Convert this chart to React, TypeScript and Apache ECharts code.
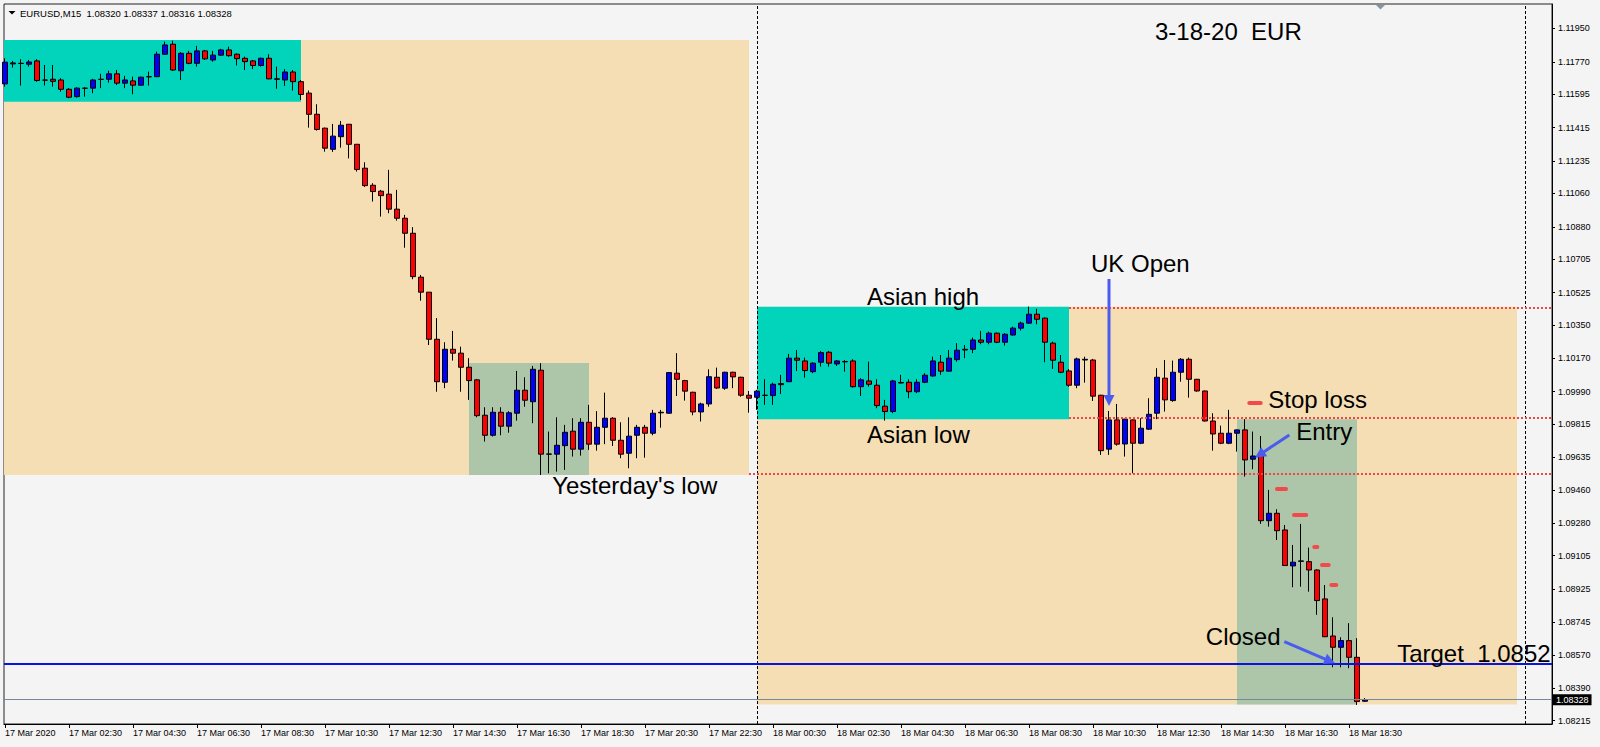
import React, { useEffect, useRef } from 'react';
import * as echarts from 'echarts';

// ---- time axis (15-minute bars, bar 0 = 17 Mar 00:30) ----
const tickBars = [0, 8, 16, 24, 32, 40, 48, 56, 64, 72, 80, 88, 96, 104, 112, 120, 128, 136, 144, 152, 160, 168];
const tickLabels = [
  '17 Mar 2020', '17 Mar 02:30', '17 Mar 04:30', '17 Mar 06:30', '17 Mar 08:30', '17 Mar 10:30',
  '17 Mar 12:30', '17 Mar 14:30', '17 Mar 16:30', '17 Mar 18:30', '17 Mar 20:30', '17 Mar 22:30',
  '18 Mar 00:30', '18 Mar 02:30', '18 Mar 04:30', '18 Mar 06:30', '18 Mar 08:30', '18 Mar 10:30',
  '18 Mar 12:30', '18 Mar 14:30', '18 Mar 16:30', '18 Mar 18:30',
];

// ---- price axis ticks ----
const priceTicks = [
  1.1195, 1.1177, 1.11595, 1.11415, 1.11235, 1.1106, 1.1088, 1.10705, 1.10525, 1.1035, 1.1017,
  1.0999, 1.09815, 1.09635, 1.0946, 1.0928, 1.09105, 1.08925, 1.08745, 1.0857, 1.0839, 1.08215,
];

// ---- OHLC, EURUSD M15 ----
const opens = [
  1.11651, 1.11759, 1.11761, 1.11757, 1.11775, 1.11672, 1.11676, 1.11672, 1.11622, 1.11582,
  1.11627, 1.11628, 1.11675, 1.11676, 1.11705, 1.11655, 1.11667, 1.11644, 1.11689, 1.1169,
  1.11811, 1.11865, 1.11722, 1.11816, 1.11762, 1.11829, 1.1178, 1.11806, 1.11834, 1.11811,
  1.11789, 1.11775, 1.1175, 1.11789, 1.11678, 1.11672, 1.11715, 1.11663, 1.11601, 1.11487,
  1.11412, 1.11298, 1.11366, 1.11433, 1.11325, 1.11196, 1.11104, 1.11072, 1.11056, 1.10975,
  1.10926, 1.10845, 1.10608, 1.10527, 1.10273, 1.10041, 1.10219, 1.10198, 1.10122, 1.10054,
  1.09863, 1.09755, 1.09879, 1.09804, 1.09874, 1.09998, 1.09936, 1.10106, 1.09653, 1.09653,
  1.09699, 1.09777, 1.0968, 1.09825, 1.09707, 1.09798, 1.09847, 1.09728, 1.09658, 1.09755,
  1.09798, 1.09766, 1.09876, 1.09874, 1.1009, 1.1005, 1.09987, 1.09881, 1.09924, 1.10068,
  1.10009, 1.10095, 1.10068, 1.09971, 1.0996, 1.0997, 1.09969, 1.10034, 1.10044, 1.10171,
  1.10156, 1.10098, 1.10149, 1.10203, 1.1014, 1.10151, 1.10156, 1.10017, 1.10048, 1.10025,
  1.09912, 1.09883, 1.10037, 1.10041, 1.0999, 1.10041, 1.10075, 1.10149, 1.10101, 1.10163,
  1.10215, 1.10219, 1.10269, 1.10257, 1.10306, 1.10257, 1.10296, 1.10333, 1.1036, 1.10408,
  1.10387, 1.10252, 1.10149, 1.10102, 1.10025, 1.10161, 1.10161, 1.09971, 1.0968, 1.09838,
  1.09708, 1.09838, 1.09712, 1.09788, 1.09874, 1.10063, 1.09942, 1.10095, 1.10165, 1.10057,
  1.09994, 1.09832, 1.09766, 1.09712, 1.09766, 1.09784, 1.09626, 1.09643, 1.09294, 1.09334,
  1.09244, 1.0905, 1.09075, 1.09073, 1.09028, 1.08872, 1.08672, 1.08611, 1.08647, 1.08557,
  1.0832,
];
const closes = [
  1.11768, 1.11764, 1.11762, 1.11769, 1.11669, 1.11671, 1.11665, 1.11622, 1.11579, 1.11628,
  1.11628, 1.11672, 1.11676, 1.11705, 1.11655, 1.11672, 1.11644, 1.11687, 1.1169, 1.11811,
  1.11861, 1.11726, 1.11816, 1.11762, 1.11829, 1.11786, 1.11806, 1.11834, 1.11803, 1.11787,
  1.11771, 1.1175, 1.11789, 1.11678, 1.11676, 1.11715, 1.11663, 1.11594, 1.11487, 1.11405,
  1.11304, 1.11369, 1.11428, 1.11325, 1.11189, 1.11102, 1.1107, 1.11048, 1.10975, 1.10926,
  1.10845, 1.10611, 1.10527, 1.10273, 1.10044, 1.10219, 1.10198, 1.10122, 1.1005, 1.09861,
  1.09755, 1.09879, 1.09804, 1.09876, 1.09998, 1.09944, 1.10111, 1.09653, 1.09654, 1.09701,
  1.09771, 1.0968, 1.09825, 1.09707, 1.09798, 1.09847, 1.09728, 1.09653, 1.0975, 1.09798,
  1.09766, 1.09874, 1.09879, 1.10093, 1.10057, 1.09993, 1.09881, 1.09924, 1.10071, 1.1001,
  1.10095, 1.1007, 1.09971, 1.09955, 1.09993, 1.09971, 1.1003, 1.10028, 1.10171, 1.1016,
  1.10104, 1.10144, 1.10201, 1.10144, 1.10156, 1.10153, 1.10017, 1.10054, 1.1003, 1.09915,
  1.09883, 1.10048, 1.1004, 1.0999, 1.10041, 1.10079, 1.10156, 1.10101, 1.10171, 1.10214,
  1.10219, 1.10269, 1.10257, 1.10306, 1.10257, 1.103, 1.10333, 1.1036, 1.10408, 1.10381,
  1.10257, 1.1016, 1.10095, 1.10025, 1.10167, 1.10165, 1.09966, 1.09672, 1.09838, 1.09707,
  1.09842, 1.09712, 1.09793, 1.09868, 1.10068, 1.09946, 1.10095, 1.10165, 1.10057, 1.09994,
  1.09832, 1.09762, 1.09712, 1.09766, 1.09784, 1.09622, 1.09643, 1.09294, 1.09334, 1.0924,
  1.09052, 1.0907, 1.09077, 1.09028, 1.08863, 1.08668, 1.08611, 1.08647, 1.08557, 1.08318,
  1.08328,
];
const lows = [
  1.11636, 1.11739, 1.11642, 1.11744, 1.11663, 1.11642, 1.11636, 1.11609, 1.11574, 1.11577,
  1.11582, 1.11601, 1.11628, 1.11658, 1.11645, 1.11628, 1.11595, 1.11642, 1.11642, 1.11687,
  1.11807, 1.11721, 1.11672, 1.11757, 1.11744, 1.1178, 1.11771, 1.11802, 1.11798, 1.1175,
  1.11726, 1.11731, 1.11744, 1.11676, 1.11625, 1.1164, 1.11615, 1.11564, 1.11415, 1.11399,
  1.11285, 1.11284, 1.11307, 1.11249, 1.11178, 1.11095, 1.11016, 1.10935, 1.10953, 1.10913,
  1.10767, 1.10597, 1.10481, 1.10242, 1.0999, 1.10009, 1.10158, 1.0999, 1.09946, 1.09852,
  1.09721, 1.09748, 1.09755, 1.09769, 1.09834, 1.09909, 1.0982, 1.09541, 1.0955, 1.09559,
  1.09568, 1.0964, 1.09645, 1.09676, 1.09672, 1.09707, 1.09697, 1.09631, 1.09577, 1.09631,
  1.09634, 1.09755, 1.09796, 1.09872, 1.09967, 1.09942, 1.09863, 1.09829, 1.09909, 1.10005,
  1.1, 1.10009, 1.09963, 1.09877, 1.09892, 1.09919, 1.09919, 1.09978, 1.10042, 1.10102,
  1.10066, 1.1009, 1.10125, 1.10125, 1.10129, 1.10098, 1.10012, 1.09967, 1.10017, 1.09901,
  1.09834, 1.09874, 1.10034, 1.09955, 1.09982, 1.10036, 1.10071, 1.10081, 1.10098, 1.10152,
  1.10171, 1.10198, 1.10246, 1.10246, 1.10252, 1.10239, 1.10293, 1.1032, 1.10356, 1.10354,
  1.10149, 1.10113, 1.1009, 1.10017, 1.10009, 1.10039, 1.0994, 1.09649, 1.09649, 1.09699,
  1.0964, 1.0955, 1.09707, 1.09784, 1.09842, 1.09883, 1.09936, 1.10044, 1.09958, 1.0999,
  1.09829, 1.09672, 1.09707, 1.09707, 1.09667, 1.09532, 1.09572, 1.09277, 1.09262, 1.0919,
  1.0905, 1.08935, 1.08938, 1.08911, 1.08786, 1.08666, 1.08503, 1.08503, 1.08498, 1.083,
  1.08316,
];
const highs = [
  1.11789, 1.11775, 1.11784, 1.1178, 1.11784, 1.11753, 1.11753, 1.11682, 1.11628, 1.11633,
  1.11633, 1.11678, 1.11705, 1.11722, 1.11726, 1.11694, 1.1169, 1.1169, 1.11717, 1.11825,
  1.11879, 1.11884, 1.11822, 1.11829, 1.11856, 1.11834, 1.11829, 1.1184, 1.11852, 1.11816,
  1.11798, 1.1178, 1.11793, 1.11811, 1.11744, 1.1173, 1.11726, 1.11672, 1.11615, 1.11541,
  1.11415, 1.11435, 1.11451, 1.11435, 1.11327, 1.11228, 1.11115, 1.11079, 1.11187, 1.11079,
  1.10944, 1.10878, 1.1062, 1.10528, 1.10387, 1.10257, 1.10318, 1.10233, 1.10171, 1.10059,
  1.09906, 1.09906, 1.09906, 1.09885, 1.10102, 1.10068, 1.10129, 1.10144, 1.09775, 1.09852,
  1.09811, 1.09847, 1.09847, 1.09919, 1.09885, 1.09985, 1.09852, 1.09825, 1.09852, 1.09811,
  1.09811, 1.09892, 1.09892, 1.10095, 1.10198, 1.10054, 1.0999, 1.09931, 1.10111, 1.1012,
  1.10098, 1.10098, 1.10071, 1.09994, 1.1, 1.10057, 1.10039, 1.10081, 1.10194, 1.10215,
  1.10174, 1.10149, 1.1021, 1.1021, 1.10161, 1.10161, 1.10165, 1.10063, 1.10152, 1.10057,
  1.09946, 1.10054, 1.10081, 1.10057, 1.10057, 1.1009, 1.10179, 1.10188, 1.10215, 1.10252,
  1.10242, 1.10282, 1.10318, 1.10314, 1.10309, 1.10306, 1.10341, 1.10368, 1.10449, 1.10437,
  1.1039, 1.1026, 1.10188, 1.10113, 1.10174, 1.10179, 1.10167, 1.09973, 1.09886, 1.09924,
  1.09844, 1.0984, 1.09847, 1.09955, 1.10117, 1.10161, 1.10158, 1.10171, 1.10174, 1.10059,
  1.09996, 1.09874, 1.09807, 1.09892, 1.09786, 1.09842, 1.09775, 1.09751, 1.0946, 1.09356,
  1.09271, 1.09163, 1.09277, 1.09149, 1.09032, 1.08947, 1.08773, 1.08665, 1.08741, 1.0866,
  1.08337,
];

// ---- session / trade zones (bar index from..to, price high..low) ----
const zoneStart = [-0.125, 94, -0.125, 94, 58, 154];
const zoneEnd = [93, 189, 37, 133, 73, 169];
const zoneHigh = [1.11888, 1.10449, 1.11888, 1.10449, 1.10145, 1.09842];
const zoneLow = [1.09541, 1.08302, 1.11555, 1.09842, 1.09541, 1.08302];
const zoneKind = ['day', 'day', 'asia', 'asia', 'trade', 'trade'];

// ---- horizontal levels (red dotted) ----
const levelStart = [133, 133, 93];
const levelValue = [1.10444, 1.09848, 1.09546];

// ---- trailing stop marks ----
const stopFrom = [155.54, 159.0, 161.125, 163.66, 164.625, 165.79];
const stopTo = [156.96, 160.125, 162.66, 164.04, 165.46, 166.41];
const stopPrice = [1.09928, 1.09464, 1.09327, 1.09154, 1.09057, 1.08949];

const daySeparators = [94, 190];
const targetPrice = 1.0852;
const lastPrice = 1.08328;

// ---- annotations (anchored in bar index / price) ----
const noteText = ['3-18-20  EUR', 'UK Open', 'Asian high', 'Asian low', "Yesterday's low", 'Stop loss', 'Entry', 'Closed', 'Target  1.0852'];
const noteBar = [143.75, 135.75, 107.75, 107.75, 68.4, 157.9, 161.4, 150.1, 193.2];
const notePrice = [1.11931, 1.1068, 1.10504, 1.09761, 1.09484, 1.09949, 1.09777, 1.08667, 1.0858];

const arrowFromBar = [138, 160.54, 159.91];
const arrowFromPrice = [1.10598, 1.09757, 1.08641];
const arrowToBar = [138, 156.25, 166.25];
const arrowToPrice = [1.09913, 1.09634, 1.08525];

const X_MIN = -0.125;
const X_MAX = 193.375;
const Y_MIN = 1.08197;
const Y_MAX = 1.12082;

const FONT = '"Liberation Sans", Arial, sans-serif';
const zoneColor: Record<string, string> = { day: '#f5deb3', asia: '#02d3bb', trade: '#adc5a8' };

export default function App() {
  const ref = useRef<HTMLDivElement>(null);

  useEffect(() => {
    document.body.style.margin = '0';
    const chart = echarts.init(ref.current as HTMLDivElement, null, { renderer: 'svg' });

    const candleData = opens.map((o, i) => [i, o, closes[i], lows[i], highs[i]]);

    const option: any = {
      animation: false,
      backgroundColor: '#f4f4f4',
      grid: { left: 4, right: 48, top: 4, bottom: 23, show: true, borderColor: '#222', borderWidth: 1, backgroundColor: 'transparent' },
      xAxis: {
        type: 'value', min: X_MIN, max: X_MAX,
        axisLine: { show: true, onZero: false, lineStyle: { color: '#000' } },
        axisTick: { show: true, customValues: tickBars, length: 4, lineStyle: { color: '#000' } },
        axisLabel: {
          customValues: tickBars, align: 'left', margin: 4, fontSize: 9, fontFamily: FONT, color: '#000',
          formatter: (v: number) => { const i = tickBars.indexOf(Math.round(v)); return i >= 0 ? tickLabels[i] : ''; },
        },
        splitLine: { show: false },
      },
      yAxis: {
        type: 'value', position: 'right', min: Y_MIN, max: Y_MAX, scale: true,
        axisLine: { show: true, onZero: false, lineStyle: { color: '#000' } },
        axisTick: { show: true, customValues: priceTicks, length: 3, lineStyle: { color: '#000' } },
        axisLabel: { customValues: priceTicks, margin: 6, fontSize: 9, fontFamily: FONT, color: '#000', formatter: (v: number) => v.toFixed(5) },
        splitLine: { show: false },
      },
      graphic: [],
      series: [
        {
          type: 'candlestick', name: 'EURUSD', z: 3,
          data: candleData,
          barWidth: 5,
          itemStyle: { color: '#0000ff', color0: '#ff0000', borderColor: '#000', borderColor0: '#000', borderWidth: 1 },
          emphasis: { disabled: true },
          markArea: {
            silent: true, z: 1,
            data: zoneStart.map((s, i) => [
              { xAxis: s, yAxis: zoneHigh[i], itemStyle: { color: zoneColor[zoneKind[i]], opacity: 1 } },
              { xAxis: zoneEnd[i], yAxis: zoneLow[i] },
            ]),
          },
        },
        {
          type: 'line', name: 'separators', data: [], z: 2,
          markLine: {
            silent: true, z: 2, precision: 5, symbol: ['none', 'none'], label: { show: false },
            lineStyle: { color: '#000', width: 1, type: [3, 2] },
            data: daySeparators.map((x) => ({ xAxis: x })),
          },
        },
        {
          type: 'line', name: 'levels', data: [], z: 4,
          markLine: {
            silent: true, z: 4, precision: 5, symbol: ['none', 'none'], label: { show: false },
            data: [
              ...levelValue.map((v, i) => [
                { coord: [levelStart[i], v], lineStyle: { color: '#f04646', width: 2, type: [2, 2] } },
                { coord: [X_MAX, v] },
              ]),
              { yAxis: targetPrice, lineStyle: { color: '#0a14e0', width: 2, type: 'solid' } },
              {
                yAxis: lastPrice, lineStyle: { color: '#778899', width: 1, type: 'solid' },
                label: {
                  show: true, position: 'end', distance: 1, formatter: lastPrice.toFixed(5),
                  backgroundColor: '#000', color: '#fff', padding: [1, 3, 1, 3], fontSize: 9, fontFamily: FONT,
                },
              },
              ...stopPrice.map((p, i) => [
                { coord: [stopFrom[i], p], lineStyle: { color: '#f24a4a', width: 4, type: 'solid', cap: 'round' } },
                { coord: [stopTo[i], p] },
              ]),
            ],
          },
        },
      ],
    };

    chart.setOption(option);

    const toPx = (x: number, y: number) => chart.convertToPixel({ gridIndex: 0 }, [x, y]) as number[];
    const g: any[] = [
      { type: 'polygon', shape: { points: [[8.5, 11], [15.5, 11], [12, 14.5]] }, style: { fill: '#000' } },
      {
        type: 'text', x: 20, y: 13,
        style: {
          text: `EURUSD,M15  ${opens[170].toFixed(5)} ${highs[170].toFixed(5)} ${lows[170].toFixed(5)} ${closes[170].toFixed(5)}`,
          fontSize: 9.5, fontFamily: FONT, fill: '#000', align: 'left', verticalAlign: 'middle',
        },
      },
      { type: 'polygon', shape: { points: [[1376, 5], [1385, 5], [1380.5, 9.5]] }, style: { fill: '#8794a3' } },
    ];
    noteText.forEach((t, i) => {
      const [px, py] = toPx(noteBar[i], notePrice[i]);
      g.push({
        type: 'text', x: px, y: py, z: 20,
        style: { text: t, fontSize: 24, fontFamily: FONT, fill: '#000', align: i === noteText.length - 1 ? 'right' : 'left', verticalAlign: 'middle' },
      });
    });
    const arrowColor = '#4a5cf0';
    arrowFromBar.forEach((_, i) => {
      const [x1, y1] = toPx(arrowFromBar[i], arrowFromPrice[i]);
      const [x2, y2] = toPx(arrowToBar[i], arrowToPrice[i]);
      const dx = x2 - x1; const dy = y2 - y1; const len = Math.hypot(dx, dy);
      const ux = dx / len; const uy = dy / len;
      const hl = 11; const hw = 5.5;
      const bx = x2 - ux * hl; const by = y2 - uy * hl;
      g.push({ type: 'line', z: 20, shape: { x1, y1, x2: bx + ux, y2: by + uy }, style: { stroke: arrowColor, lineWidth: 3 } });
      g.push({ type: 'polygon', z: 20, shape: { points: [[x2, y2], [bx - uy * hw, by + ux * hw], [bx + uy * hw, by - ux * hw]] }, style: { fill: arrowColor } });
    });
    chart.setOption({ graphic: g });

    return () => chart.dispose();
  }, []);

  return <div ref={ref} style={{ width: 1600, height: 747 }} />;
}
